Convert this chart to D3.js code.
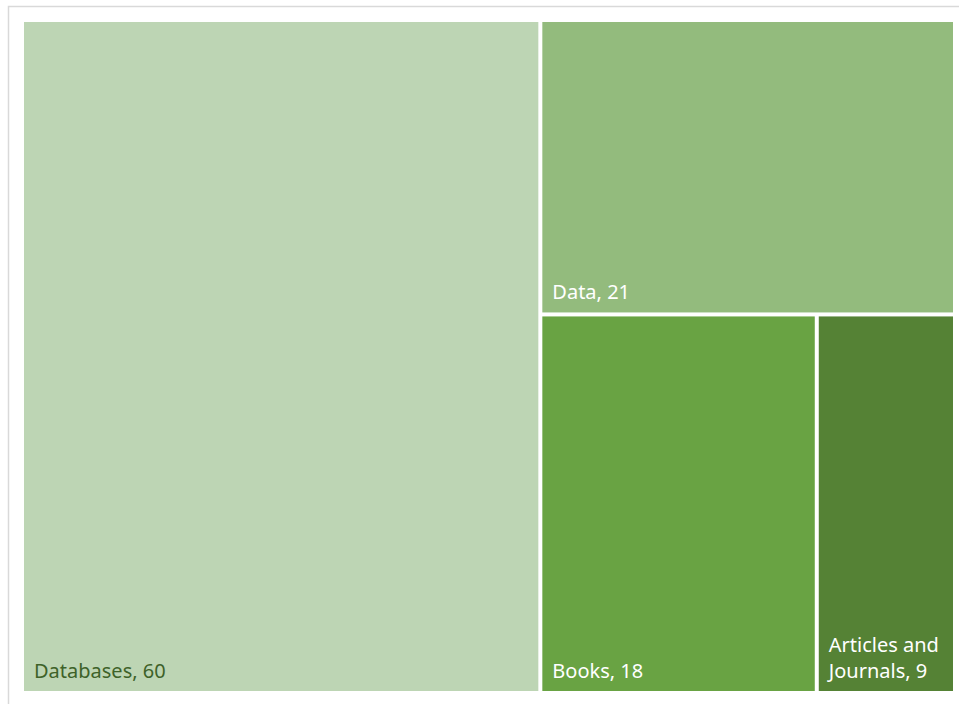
<!DOCTYPE html>
<html>
<head>
<meta charset="utf-8">
<script src="https://cdn.jsdelivr.net/npm/d3@7"></script>
<style>
  html, body { margin: 0; padding: 0; background: #ffffff; }
  svg { display: block; }
</style>
</head>
<body>
<svg id="chart" width="959" height="704"></svg>
<script>
// ---- data ----
const categories = ["Databases", "Data", "Books", "Articles and Journals"];
const values = [60, 21, 18, 9];

// ---- styles ----
const fillColors = ["#bdd5b4", "#93bb7d", "#69a343", "#558235"];
const labelColors = ["#3e6229", "#ffffff", "#ffffff", "#ffffff"];

const svg = d3.select("#chart");

// outer chart frame
svg.append("rect")
  .attr("x", 8.5).attr("y", 6.5)
  .attr("width", 1000).attr("height", 1000)
  .attr("fill", "#ffffff")
  .attr("stroke", "#d9d9d9").attr("stroke-width", 1.5);

const plot = { x: 24, y: 22, w: 929, h: 669 };

const colorScale = d3.scaleOrdinal().domain(categories).range(fillColors);
const labelScale = d3.scaleOrdinal().domain(categories).range(labelColors);

const rootData = { name: "root", children: categories.map((c, i) => ({ name: c, value: values[i] })) };
const root = d3.hierarchy(rootData).sum(d => d.value || 0);

d3.treemap()
  .tile(d3.treemapSquarify.ratio(1))
  .size([plot.w, plot.h])
  .paddingInner(4)
  .paddingOuter(0)
  .round(false)(root);

const g = svg.append("g").attr("transform", `translate(${plot.x},${plot.y})`);

const cell = g.selectAll("g.cell")
  .data(root.leaves())
  .join("g")
  .attr("class", "cell");

cell.append("rect")
  .attr("x", d => d.x0)
  .attr("y", d => d.y0)
  .attr("width", d => d.x1 - d.x0)
  .attr("height", d => d.y1 - d.y0)
  .attr("fill", d => colorScale(d.data.name));

const fontSize = 20, lineH = 26, padX = 10, padBottom = 13;

cell.each(function(d) {
  const sel = d3.select(this);
  const label = `${d.data.name}, ${d.data.value}`;
  const maxW = (d.x1 - d.x0) - 2 * padX;
  const t = sel.append("text")
    .attr("font-family", "'Noto Sans', 'Open Sans', sans-serif")
    .attr("font-size", fontSize)
    .attr("fill", labelScale(d.data.name));
  // word wrap
  const words = label.split(" ");
  const lines = [];
  let cur = "";
  const probe = t.append("tspan");
  words.forEach(w => {
    const test = cur ? cur + " " + w : w;
    probe.text(test);
    if (probe.node().getComputedTextLength() > maxW && cur) {
      lines.push(cur);
      cur = w;
    } else {
      cur = test;
    }
  });
  if (cur) lines.push(cur);
  probe.remove();
  const baseY = d.y1 - padBottom;
  lines.forEach((ln, i) => {
    t.append("tspan")
      .attr("x", d.x0 + padX)
      .attr("y", baseY - (lines.length - 1 - i) * lineH)
      .text(ln);
  });
});
</script>
</body>
</html>
